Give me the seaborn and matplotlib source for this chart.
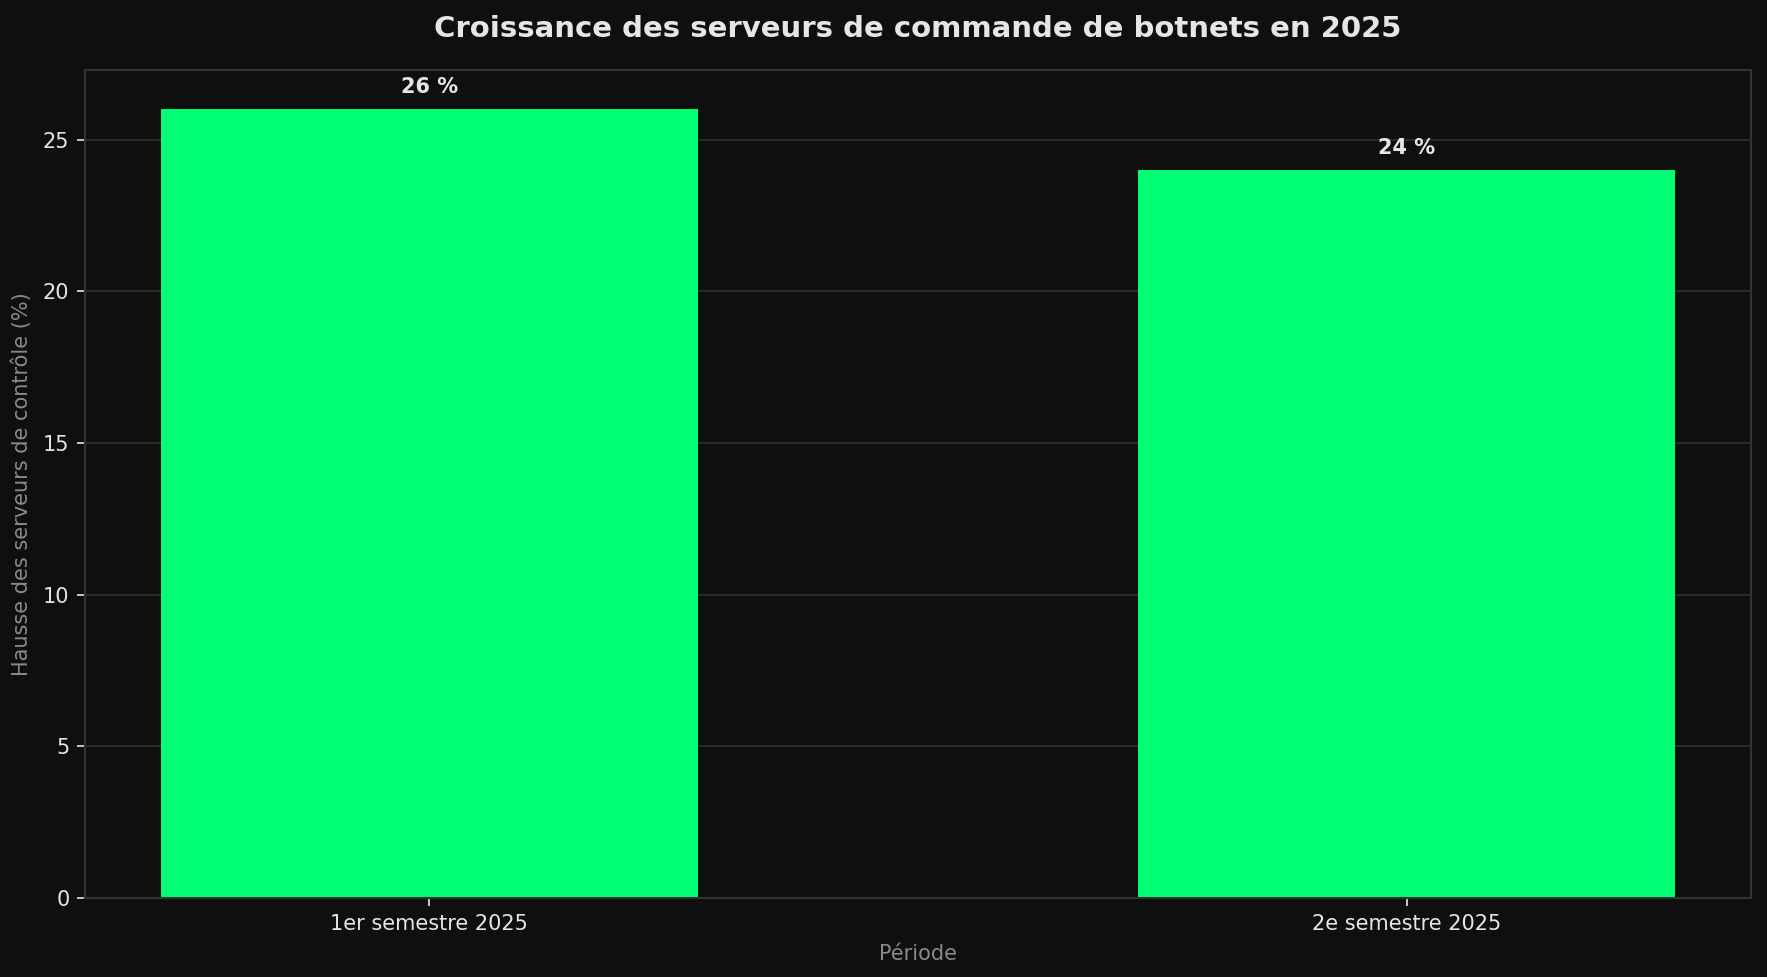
import matplotlib
matplotlib.use("Agg")
import matplotlib.pyplot as plt
import seaborn as sns
import pandas as pd

periodes = ["1er semestre 2025", "2e semestre 2025"]
hausse = [26, 24]
etiquettes = ["26 %", "24 %"]

BG = "#0f0f0f"
sns.set_theme(style="dark")
plt.rcParams["font.family"] = ["DejaVu Sans"]

fig = plt.figure(figsize=(1767 / 150, 977 / 150), dpi=150, facecolor=BG)
ax = fig.add_axes([85 / 1767, 1 - 898 / 977, (1751 - 85) / 1767, (898 - 70) / 977])
ax.set_facecolor(BG)

df = pd.DataFrame({"Période": periodes, "Hausse": hausse})
sns.barplot(data=df, x="Période", y="Hausse", color="#00ff75", saturation=1,
            width=0.55, ax=ax, linewidth=0)

# matplotlib-style 5% margins around the bars
x0 = min(p.get_x() for p in ax.patches)
x1 = max(p.get_x() + p.get_width() for p in ax.patches)
pad = 0.05 * (x1 - x0)
ax.set_xlim(x0 - pad, x1 + pad)

for i, (v, lab) in enumerate(zip(hausse, etiquettes)):
    ax.annotate(lab, (i, v), xytext=(0, 6), textcoords="offset points",
                ha="center", va="bottom", fontsize=10, fontweight="bold",
                color="#e6e6e6")

ax.set_ylim(0, 27.3)
ax.yaxis.grid(True, color="#2a2a2a", linewidth=1)
ax.xaxis.grid(False)
ax.set_axisbelow(True)
for s in ax.spines.values():
    s.set_visible(True)
    s.set_color("#333333")
    s.set_linewidth(1)

ax.tick_params(axis="both", colors="#e6e6e6", labelsize=10, length=4, width=0.8,
               left=True, bottom=True)
ax.set_xlabel("Période", color="#8a8a8a", fontsize=10, labelpad=5)
ax.set_ylabel("Hausse des serveurs de contrôle (%)", color="#8a8a8a", fontsize=10,
              labelpad=5)
ax.set_title("Croissance des serveurs de commande de botnets en 2025",
             color="#e6e6e6", fontsize=14, fontweight="bold", pad=16)

fig.savefig("out.png", dpi=150, facecolor=BG)
